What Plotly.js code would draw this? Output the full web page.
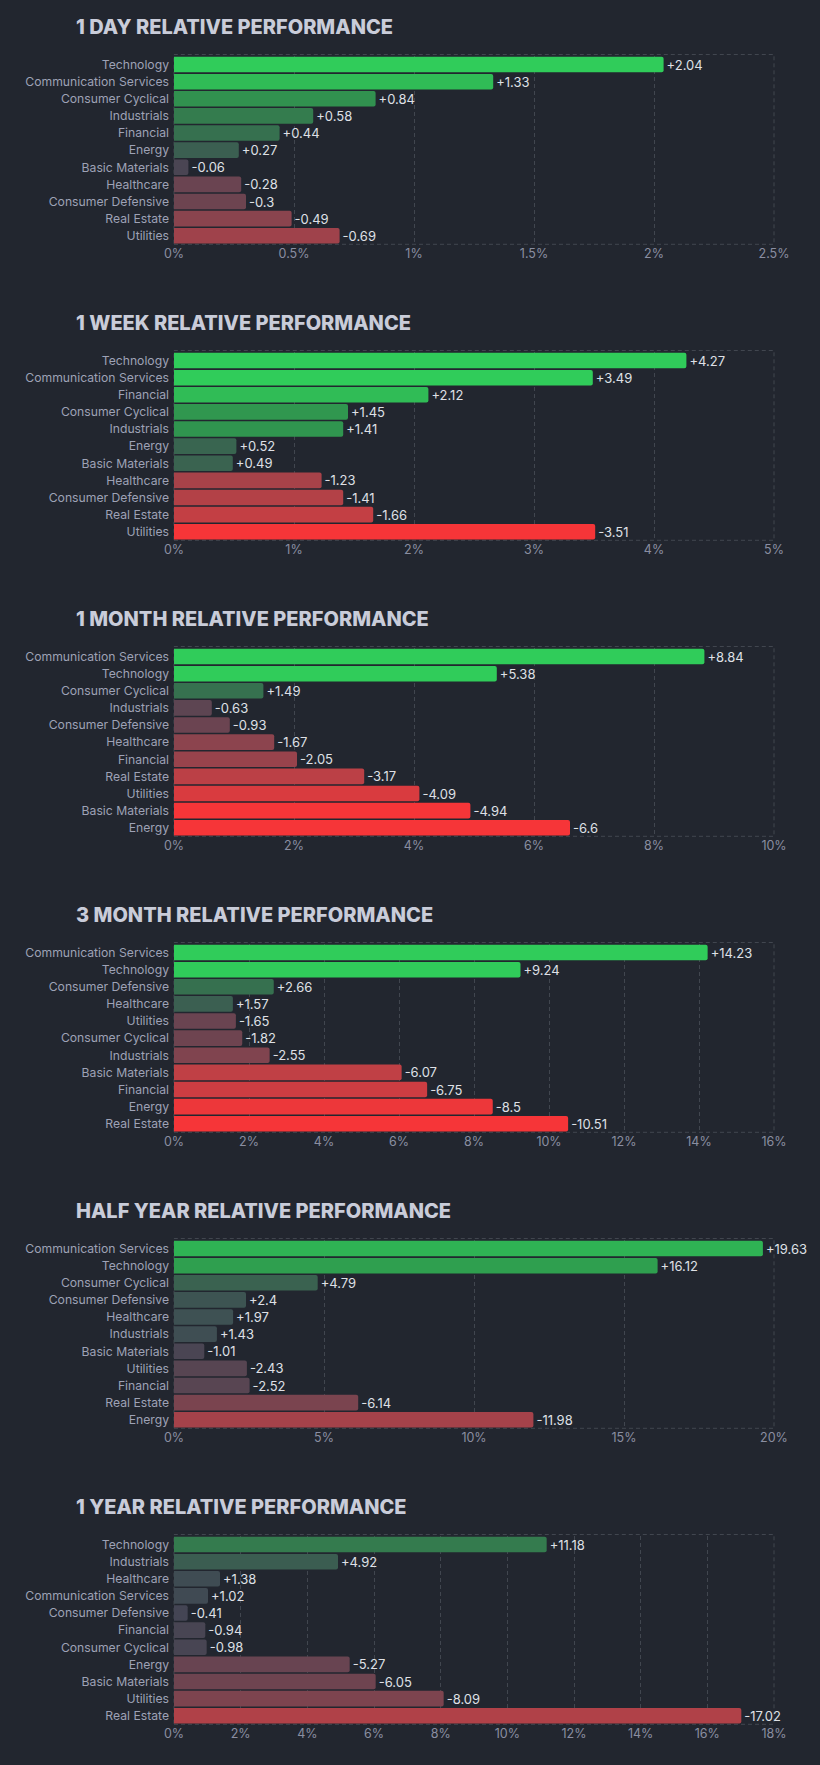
<!DOCTYPE html>
<html>
<head>
<meta charset="utf-8">
<script src="https://cdn.plot.ly/plotly-3.0.1.min.js"></script>
<style>
  html, body { margin: 0; padding: 0; background: #22262f; }
  #chart { width: 820px; height: 1765px; }
</style>
</head>
<body>
<div id="chart"></div>
<script>
// ---------- DATA ----------
const titles = [
  "1 DAY RELATIVE PERFORMANCE",
  "1 WEEK RELATIVE PERFORMANCE",
  "1 MONTH RELATIVE PERFORMANCE",
  "3 MONTH RELATIVE PERFORMANCE",
  "HALF YEAR RELATIVE PERFORMANCE",
  "1 YEAR RELATIVE PERFORMANCE"
];

const sectors1D = ["Technology","Communication Services","Consumer Cyclical","Industrials","Financial","Energy","Basic Materials","Healthcare","Consumer Defensive","Real Estate","Utilities"];
const values1D = [2.04, 1.33, 0.84, 0.58, 0.44, 0.27, -0.06, -0.28, -0.3, -0.49, -0.69];

const sectors1W = ["Technology","Communication Services","Financial","Consumer Cyclical","Industrials","Energy","Basic Materials","Healthcare","Consumer Defensive","Real Estate","Utilities"];
const values1W = [4.27, 3.49, 2.12, 1.45, 1.41, 0.52, 0.49, -1.23, -1.41, -1.66, -3.51];

const sectors1M = ["Communication Services","Technology","Consumer Cyclical","Industrials","Consumer Defensive","Healthcare","Financial","Real Estate","Utilities","Basic Materials","Energy"];
const values1M = [8.84, 5.38, 1.49, -0.63, -0.93, -1.67, -2.05, -3.17, -4.09, -4.94, -6.6];

const sectors3M = ["Communication Services","Technology","Consumer Defensive","Healthcare","Utilities","Consumer Cyclical","Industrials","Basic Materials","Financial","Energy","Real Estate"];
const values3M = [14.23, 9.24, 2.66, 1.57, -1.65, -1.82, -2.55, -6.07, -6.75, -8.5, -10.51];

const sectorsHY = ["Communication Services","Technology","Consumer Cyclical","Consumer Defensive","Healthcare","Industrials","Basic Materials","Utilities","Financial","Real Estate","Energy"];
const valuesHY = [19.63, 16.12, 4.79, 2.4, 1.97, 1.43, -1.01, -2.43, -2.52, -6.14, -11.98];

const sectors1Y = ["Technology","Industrials","Healthcare","Communication Services","Consumer Defensive","Financial","Consumer Cyclical","Energy","Basic Materials","Utilities","Real Estate"];
const values1Y = [11.18, 4.92, 1.38, 1.02, -0.41, -0.94, -0.98, -5.27, -6.05, -8.09, -17.02];

const tickVals1D = [0, 0.5, 1, 1.5, 2, 2.5];
const tickText1D = ["0%", "0.5%", "1%", "1.5%", "2%", "2.5%"];
const tickVals1W = [0, 1, 2, 3, 4, 5];
const tickText1W = ["0%", "1%", "2%", "3%", "4%", "5%"];
const tickVals1M = [0, 2, 4, 6, 8, 10];
const tickText1M = ["0%", "2%", "4%", "6%", "8%", "10%"];
const tickVals3M = [0, 2, 4, 6, 8, 10, 12, 14, 16];
const tickText3M = ["0%", "2%", "4%", "6%", "8%", "10%", "12%", "14%", "16%"];
const tickValsHY = [0, 5, 10, 15, 20];
const tickTextHY = ["0%", "5%", "10%", "15%", "20%"];
const tickVals1Y = [0, 2, 4, 6, 8, 10, 12, 14, 16, 18];
const tickText1Y = ["0%", "2%", "4%", "6%", "8%", "10%", "12%", "14%", "16%", "18%"];

// ---------- STYLE / LAYOUT ----------
const panels = [
  {sectors: sectors1D, values: values1D, tv: tickVals1D, tt: tickText1D, step: 0.5},
  {sectors: sectors1W, values: values1W, tv: tickVals1W, tt: tickText1W, step: 0.8},
  {sectors: sectors1M, values: values1M, tv: tickVals1M, tt: tickText1M, step: 1.65},
  {sectors: sectors3M, values: values3M, tv: tickVals3M, tt: tickText3M, step: 3},
  {sectors: sectorsHY, values: valuesHY, tv: tickValsHY, tt: tickTextHY, step: 8},
  {sectors: sectors1Y, values: values1Y, tv: tickVals1Y, tt: tickText1Y, step: 10}
];

const W = 820, H = 1765;
const BG = "#22262f";
const GRID = "#41464f";
const DASH = "4px,3px";
const posStops = ["#414554", "#35764e", "#2f9e4f", "#30cc5a"];
const negStops = ["#414554", "#8b444e", "#bf4045", "#f63538"];

function hexToRgb(h) { return [parseInt(h.slice(1,3),16), parseInt(h.slice(3,5),16), parseInt(h.slice(5,7),16)]; }
function colorFor(v, step) {
  const stops = v >= 0 ? posStops : negStops;
  let t = Math.min(Math.abs(v) / step, 3);
  const i = Math.min(Math.floor(t), 2);
  const f = t - i;
  const a = hexToRgb(stops[i]), b = hexToRgb(stops[i+1]);
  const c = a.map((x, k) => Math.round(x + (b[k] - x) * f));
  return "rgb(" + c.join(",") + ")";
}

const plotLeft = 174, plotRight = 774;
const pitch = 296, top0 = 56, plotH = 188.3;

const data = [];
const layout = {
  width: W, height: H,
  paper_bgcolor: BG, plot_bgcolor: BG,
  margin: {l: 0, r: 0, t: 0, b: 0},
  showlegend: false,
  bargap: 0.09,
  font: {family: "Inter, 'Noto Sans', sans-serif", color: "#9ea2b4"},
  annotations: [],
  shapes: []
};

panels.forEach((p, k) => {
  const n = k === 0 ? "" : String(k + 1);
  const xa = "x" + n, ya = "y" + n;
  const topPx = top0 + pitch * k;
  const botPx = topPx + plotH;
  data.push({
    type: "bar",
    orientation: "h",
    x: p.values.map(v => Math.abs(v)),
    y: p.sectors,
    xaxis: xa, yaxis: ya,
    text: p.values.map(v => (v > 0 ? "+" : "") + v),
    textposition: "outside",
    constraintext: "none",
    cliponaxis: false,
    textfont: {family: "Inter, sans-serif", size: 13, color: "#dfe0e6"},
    marker: {color: p.values.map(v => colorFor(v, p.step)), line: {width: 0}, cornerradius: 2},
    hoverinfo: "none"
  });
  layout["xaxis" + n] = {
    domain: [plotLeft / W, plotRight / W],
    anchor: ya,
    range: [p.tv[0], p.tv[p.tv.length - 1]],
    tickvals: p.tv, ticktext: p.tt,
    showgrid: true, gridcolor: GRID, griddash: DASH, gridwidth: 1,
    zeroline: false, showline: false, ticks: "",
    tickfont: {family: "Inter, sans-serif", size: 12.5, color: "#8a8ea1"},
    fixedrange: true
  };
  layout["yaxis" + n] = {
    domain: [1 - botPx / H, 1 - topPx / H],
    anchor: xa,
    type: "category",
    autorange: "reversed",
    showgrid: false, zeroline: false, showline: false, ticks: "",
    ticklabelstandoff: 4,
    tickfont: {family: "Inter, sans-serif", size: 12.2, color: "#9ea2b6"},
    fixedrange: true
  };
  layout.annotations.push({
    xref: "paper", yref: "paper",
    x: 74 / W, y: 1 - (27 + pitch * k) / H,
    xanchor: "left", yanchor: "middle",
    showarrow: false,
    text: titles[k],
    font: {family: "Inter, sans-serif", size: 20, weight: 800, color: "#c9ccd9"}
  });
  layout.shapes.push({
    type: "rect",
    xref: xa + " domain", yref: ya + " domain",
    x0: 0, x1: 1, y0: 0, y1: 1 + 1.5 / plotH,
    line: {color: GRID, width: 1, dash: DASH},
    fillcolor: "rgba(0,0,0,0)",
    layer: "below"
  });
});

Plotly.newPlot("chart", data, layout, {staticPlot: true, displayModeBar: false});
</script>
</body>
</html>
